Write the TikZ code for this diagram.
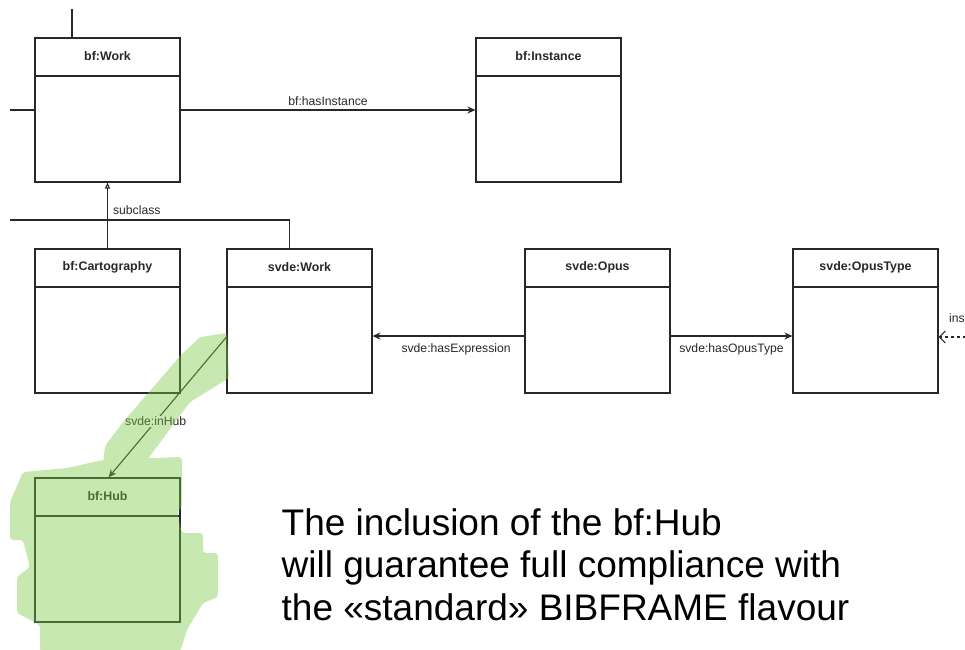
\documentclass[tikz,border=0pt]{standalone}
\usepackage{fontspec}
\setmainfont{Liberation Sans}
\usetikzlibrary{arrows.meta}
\definecolor{hl}{RGB}{125,200,70}
\definecolor{ln}{RGB}{40,40,40}
\tikzset{
  cls/.style={draw=ln, line width=1.1pt, minimum width=145pt, minimum height=144pt, inner sep=0pt},
  ttl/.style={font=\bfseries\fontsize{12.4}{14}\selectfont, text=ln},
  lbl/.style={font=\fontsize{12.2}{14}\selectfont, text=ln, inner sep=1pt},
  conn/.style={draw=ln, line width=1.1pt},
  arr/.style={conn, -{Stealth[length=8pt,width=7pt]}},
  big/.style={font=\fontsize{37}{42}\selectfont, anchor=base west, inner sep=0pt}
}
\newcommand{\umlbox}[3]{%
  \node[cls] (#1) at (#2) {};
  \draw[conn] ([yshift=-38.5pt]#1.north west) -- ([yshift=-38.5pt]#1.north east);
  \node[ttl] (#1t) at ([yshift=-19pt]#1.north) {#3};
}
\begin{document}
\begin{tikzpicture}[x=1pt,y=-1pt]
\useasboundingbox (0,0) rectangle (965,649);
\umlbox{work}{107.5,110}{bf:Work}
\umlbox{inst}{548.5,110}{bf:Instance}
\umlbox{carto}{107.5,321}{bf:Cartography}
\umlbox{svwork}{299.5,321}{svde:Work}
\umlbox{opus}{597.5,321}{svde:Opus}
\umlbox{otype}{865.5,321}{svde:OpusType}
\umlbox{hub}{107.5,550}{bf:Hub}

\coordinate (topend) at (72,9);
\coordinate (leftend) at (10,110);
\coordinate (subend) at (10,220);
\coordinate (insend) at (966,337);

\draw[conn] (topend) -- (topend |- work.north);
\draw[conn] (leftend) -- (work.west);
\draw[arr] (work.east) -- node[lbl, above=3pt] {bf:hasInstance} (inst.west);
\draw[conn, -{Triangle[open,length=6pt,width=5pt]}] (carto.north) -- node[lbl, pos=0.58, right=4pt] {subclass} (work.south);
\draw[conn] (subend) -| ([xshift=-10pt]svwork.north);
\draw[arr] ([yshift=-15pt]opus.west) -- node[lbl, pos=0.45, below=6pt] {svde:hasExpression} ([yshift=-15pt]svwork.east);
\draw[arr] ([yshift=-15pt]opus.east) -- node[lbl, pos=0.5, below=6pt] {svde:hasOpusType} ([yshift=-15pt]otype.east -| otype.west);
\draw[conn, dashed, -{Straight Barb[length=6pt,width=12pt]}] (insend) -- ([yshift=-16pt]otype.east);
\node[lbl, anchor=west, inner sep=0pt] (inslbl) at (949,318) {ins};
\draw[conn, -{Stealth[length=8pt,width=7pt]}] ([yshift=-16pt]svwork.west) -- node[lbl, pos=0.6, fill=white, inner sep=1pt] {svde:inHub} ([xshift=1pt]hub.north);

\node[big] (t1) at (281.5,535.7) {The inclusion of the bf:Hub};
\node[big] (t2) at (281.5,577.7) {will guarantee full compliance with};
\node[big] (t3) at (281.5,620) {the «standard» BIBFRAME flavour};

\fill[hl, fill opacity=0.42, rounded corners=3pt]
  (200,337) -- (227,333) -- (229,378) -- (190,402) -- (153,452) -- (140,470) -- (118,492) -- (108,490) -- (103,463) -- (105,446) -- (123,422) -- (150,391) -- (180,356) -- cycle
  (10,502) -- (23,472) -- (67,468) -- (103,460) -- (182,457) -- (182,507) -- (177,512) -- (182,533) -- (203,533) -- (203,553) -- (218,553) -- (218,597) -- (203,603) -- (187,630) -- (180,652) -- (40,652) -- (40,625) -- (17,613) -- (17,577) -- (30,567) -- (23,540) -- (10,540) -- cycle;
\end{tikzpicture}
\end{document}
